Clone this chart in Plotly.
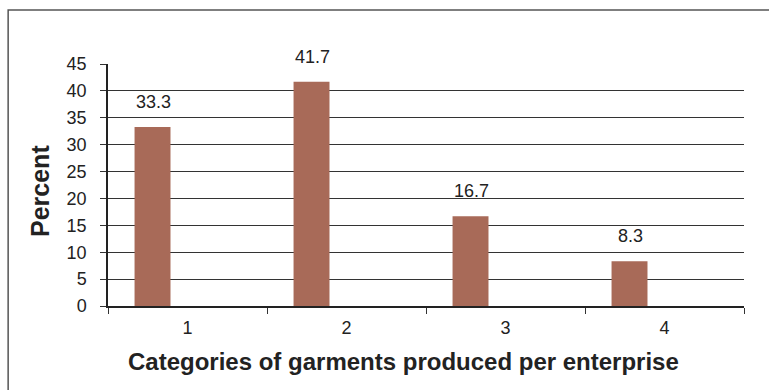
import plotly.graph_objects as go

categories = ["1", "2", "3", "4"]
percent = [33.3, 41.7, 16.7, 8.3]
labels = ["33.3", "41.7", "16.7", "8.3"]
y_ticks = [0, 5, 10, 15, 20, 25, 30, 35, 40, 45]
x_title = "Categories of garments produced per enterprise"
y_title = "Percent"

FONT = "Liberation Sans, Arial"

fig = go.Figure()
fig.add_trace(go.Bar(
    x=categories, y=percent,
    marker=dict(color="#A86A58", line=dict(width=0)),
    width=0.226, offset=-0.333,
    showlegend=False, hoverinfo="skip",
))

for i, (v, t) in enumerate(zip(percent, labels)):
    fig.add_annotation(x=i, y=v, text=t, showarrow=False, xshift=-34,
                       yshift=25, font=dict(family=FONT, size=18, color="#222"))

# axis titles as annotations (positioned like the reference)
fig.add_annotation(xref="paper", yref="paper", x=0.465, y=-0.231,
                   text=f"<b>{x_title}</b>", showarrow=False,
                   xanchor="center", yanchor="middle",
                   font=dict(family=FONT, size=24, color="#222"))
fig.add_annotation(xref="paper", yref="paper", x=-0.107, y=0.475,
                   text=f"<b>{y_title}</b>", showarrow=False, textangle=-90,
                   xanchor="center", yanchor="middle",
                   font=dict(family=FONT, size=25, color="#222"))

fig.add_shape(type="rect", xref="paper", yref="paper",
              x0=-0.157, x1=1.5, y0=-1.0, y1=1.223,
              line=dict(color="#555", width=1.5), layer="below")

fig.update_layout(
    width=769, height=390,
    margin=dict(l=108, r=25, t=64, b=84),
    paper_bgcolor="white", plot_bgcolor="white",
    font=dict(family=FONT, color="#222"),
    xaxis=dict(
        type="category", tickson="boundaries", ticks="outside", ticklen=6,
        tickcolor="#333", showgrid=False, showline=True, linecolor="#222",
        linewidth=1.5, tickfont=dict(family=FONT, size=18), range=[-0.5, 3.5],
        ticklabelstandoff=5,
    ),
    yaxis=dict(
        range=[0, 45], tickvals=y_ticks, ticks="outside", ticklen=6,
        tickcolor="#333", showgrid=True, gridcolor="#333", gridwidth=1,
        showline=True, linecolor="#222", linewidth=1.5, zeroline=False,
        tickfont=dict(family=FONT, size=18), ticklabelstandoff=10,
    ),
)

fig.write_html("out.html")
